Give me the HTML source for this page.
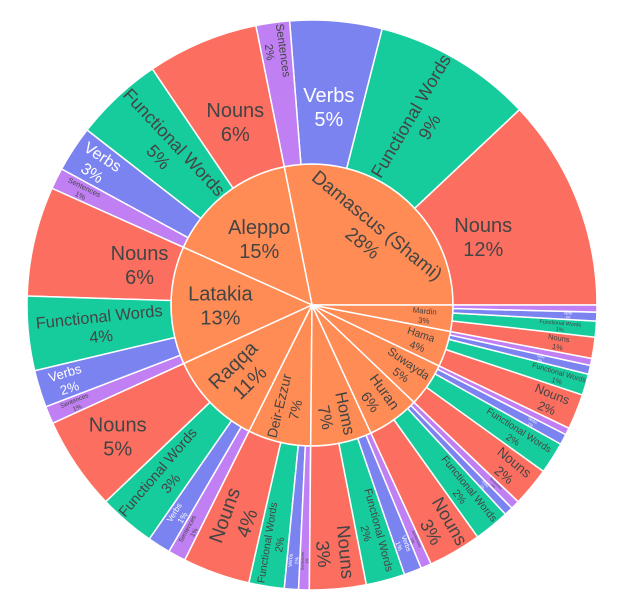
<!DOCTYPE html>
<html><head><meta charset="utf-8"><style>
html,body{margin:0;padding:0;background:#fff;}
svg{display:block;font-family:"Liberation Sans",sans-serif;}
</style></head><body>
<svg id="chart" width="617" height="613" viewBox="0 0 617 613"></svg>
<script>
const regions = ["Damascus (Shami)","Aleppo","Latakia","Raqqa","Deir-Ezzur","Homs","Huran","Suwayda","Hama","Mardin"];
const regionPct = ["28%","15%","13%","11%","7%","7%","6%","5%","4%","3%"];
const childLabels = ["Nouns","Functional Words","Verbs","Sentences"];
const nounsVals = [12.0,6.3,6.2,5.3,3.8,3.2,3.0,2.2,2.0,1.2];
const funcVals  = [9.0,5.0,4.2,3.2,2.0,2.2,2.0,1.8,1.2,0.9];
const verbVals  = [5.2,2.6,2.1,1.3,0.8,1.0,0.5,0.6,0.5,0.5];
const sentVals  = [1.9,1.2,1.0,1.0,0.6,0.6,0.5,0.4,0.4,0.4];
const nounsPct = ["12%","6%","6%","5%","4%","3%","3%","2%","2%","1%"];
const funcPct  = ["9%","5%","4%","3%","2%","2%","2%","2%","1%","1%"];
const verbPct  = ["5%","3%","2%","1%","1%","1%","1%","1%","0%","0%"];
const sentPct  = ["2%","1%","1%","1%","1%","1%","1%","0%","0%","0%"];

const CX=312, CY=305, R0=141, R1=285;
const colors = {"Nouns":"#fc6e60","Functional Words":"#17cc9c","Verbs":"#7b83f0","Sentences":"#c080f4"};
const innerColor = "#ff8c55";
const svg = document.getElementById('chart');
const NS="http://www.w3.org/2000/svg";
const ctx = document.createElement('canvas').getContext('2d');
ctx.font = '100px "Liberation Sans"';
function tw(s){return ctx.measureText(s).width/100;}

const childSets=[nounsVals,funcVals,verbVals,sentVals];
const childPcts=[nounsPct,funcPct,verbPct,sentPct];
let total=0;
for(let i=0;i<regions.length;i++) for(const s of childSets) total+=s[i];
function angle(v){return v/total*2*Math.PI;}
function pt(r,a){return [CX+r*Math.cos(a), CY-r*Math.sin(a)];}
function wedge(r0,r1,a0,a1){
  const large=(a1-a0)>Math.PI?1:0;
  const p1=pt(r1,a0),p2=pt(r1,a1);
  if(r0<=0){
    return `M${CX},${CY} L${p1[0]},${p1[1]} A${r1},${r1} 0 ${large} 0 ${p2[0]},${p2[1]} Z`;
  }
  const p3=pt(r0,a1),p4=pt(r0,a0);
  return `M${p1[0]},${p1[1]} A${r1},${r1} 0 ${large} 0 ${p2[0]},${p2[1]} L${p3[0]},${p3[1]} A${r0},${r0} 0 ${large} 1 ${p4[0]},${p4[1]} Z`;
}
function normRot(d){while(d>90)d-=180;while(d<=-90)d+=180;return d;}
function inside(x,y,r0,r1,a0,a1){
  const dx=x-CX, dy=CY-y; const r=Math.hypot(dx,dy);
  if(r<r0||r>r1) return false;
  let a=Math.atan2(dy,dx); while(a<a0)a+=2*Math.PI; while(a>a0+2*Math.PI)a-=2*Math.PI;
  return a<=a1;
}
function fits(cx,cy,w,h,rotDeg,r0,r1,a0,a1){
  const t=rotDeg*Math.PI/180, c=Math.cos(t), s=Math.sin(t);
  for(const [u,v] of [[-w/2,-h/2],[w/2,-h/2],[w/2,h/2],[-w/2,h/2],[0,-h/2],[0,h/2],[-w/2,0],[w/2,0]]){
    const x=cx+u*c-v*s, y=cy+u*s+v*c;
    if(!inside(x,y,r0,r1,a0,a1)) return false;
  }
  return true;
}
function placeLabel(lines,r0,r1,a0,a1,maxFs,color,name){
  const wUnit=Math.max(...lines.map(tw))+0.15, hUnit=lines.length*1.2;
  const am=(a0+a1)/2, deg=am*180/Math.PI;
  const rots=[0, normRot(-deg), normRot(90-deg)];
  let best={fs:0};
  const steps=12;
  for(const rot of rots){
    for(let k=0;k<=steps;k++){
      const rr=(r0>0? r0:0)+(r1-(r0>0?r0:0))*(0.2+0.6*k/steps);
      const [cx,cy]=pt(rr,am);
      let lo=0,hi=maxFs;
      for(let it=0;it<14;it++){const m=(lo+hi)/2; if(fits(cx,cy,wUnit*m,hUnit*m,rot,r0,r1,a0,a1))lo=m; else hi=m;}
      if(lo>best.fs+0.3) best={fs:lo,cx,cy,rot};
    }
  }
  if(best.fs<3) return;
  const fs=best.fs;
  const g=document.createElementNS(NS,'text');
  
  
  g.setAttribute('transform',`translate(${best.cx},${best.cy}) rotate(${best.rot})`);
  g.setAttribute('text-anchor','middle');
  g.setAttribute('font-size',fs.toFixed(2));
  g.setAttribute('fill',color);
  const n=lines.length;
  lines.forEach((l,i)=>{
    const ts=document.createElementNS(NS,'tspan');
    ts.setAttribute('x',0);
    ts.setAttribute('y',((i-(n-1)/2)*1.2*fs+0.35*fs).toFixed(2));
    ts.textContent=l;
    g.appendChild(ts);
  });
  svg.appendChild(g);
}

let a=0;
const labelQueue=[];
for(let i=0;i<regions.length;i++){
  const a0=a;
  let sum=0; for(const s of childSets) sum+=s[i];
  const a1=a0+angle(sum);
  const p=document.createElementNS(NS,'path');
  p.setAttribute('d',wedge(0,R0,a0,a1));
  p.setAttribute('fill',innerColor);
  p.setAttribute('stroke','#fff');p.setAttribute('stroke-width','1.5');
  
  
  svg.appendChild(p);
  labelQueue.push([[regions[i],regionPct[i]],0,R0,a0,a1,20,'#444','region-label']);
  let b=a0;
  for(let j=0;j<4;j++){
    const b1=b+angle(childSets[j][i]);
    const q=document.createElementNS(NS,'path');
    q.setAttribute('d',wedge(R0,R1,b,b1));
    q.setAttribute('fill',colors[childLabels[j]]);
    q.setAttribute('stroke','#fff');q.setAttribute('stroke-width','1.5');
    
    
    svg.appendChild(q);
    labelQueue.push([[childLabels[j],childPcts[j][i]],R0,R1,b,b1,20,j==2?'#fff':'#444','segment-label']);
    b=b1;
  }
  a=a1;
}
for(const L of labelQueue) placeLabel(...L);
</script>
</body></html>
